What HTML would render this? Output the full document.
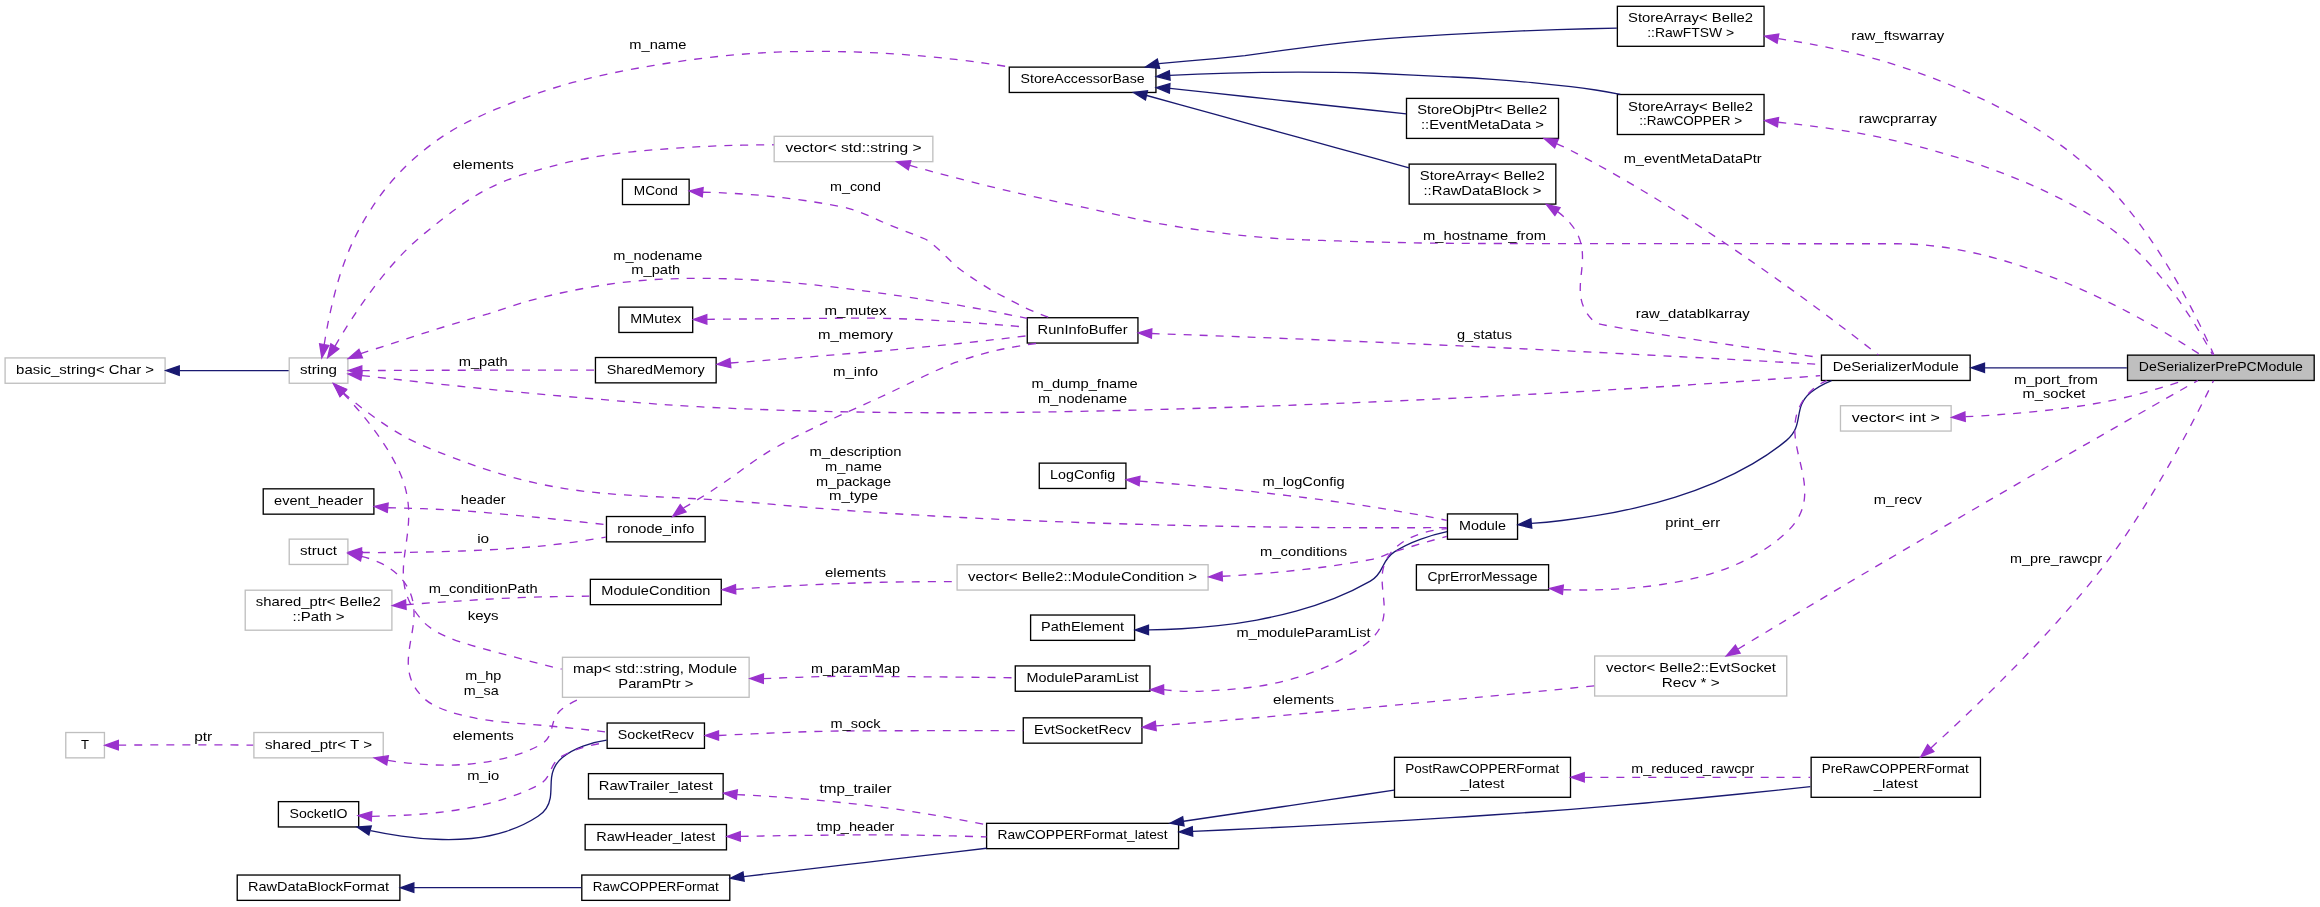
<!DOCTYPE html>
<html><head><meta charset="utf-8"><title>Collaboration graph</title>
<style>
html,body{margin:0;padding:0;background:#fff;}
svg{display:block;will-change:transform;}
text{font-family:"Liberation Sans",sans-serif;font-size:13.0px;fill:#000;}
path,rect,polygon{stroke-width:1.33;}
</style></head><body>
<svg width="2320" height="907" viewBox="0 0 2320 907">
<rect x="0" y="0" width="2320" height="907" fill="#fff" stroke="none"/>
<g>
<rect x="2127.52" y="355.13" width="186.67" height="25.33" fill="#bfbfbf" stroke="#000"/>
<text x="2138.85" y="371.13" textLength="164.00" lengthAdjust="spacingAndGlyphs">DeSerializerPrePCModule</text>
<rect x="1821.45" y="355.13" width="148.70" height="25.33" fill="#fff" stroke="#000"/>
<text x="1832.80" y="371.13" textLength="126.00" lengthAdjust="spacingAndGlyphs">DeSerializerModule</text>
<rect x="1447.45" y="513.93" width="70.10" height="25.33" fill="#fff" stroke="#000"/>
<text x="1459.00" y="529.93" textLength="47.00" lengthAdjust="spacingAndGlyphs">Module</text>
<rect x="1030.60" y="615.03" width="104.00" height="25.33" fill="#fff" stroke="#000"/>
<text x="1041.10" y="631.03" textLength="83.00" lengthAdjust="spacingAndGlyphs">PathElement</text>
<rect x="1039.27" y="463.13" width="86.67" height="25.33" fill="#fff" stroke="#000"/>
<text x="1050.10" y="479.13" textLength="65.00" lengthAdjust="spacingAndGlyphs">LogConfig</text>
<rect x="289.22" y="357.93" width="58.67" height="25.33" fill="#fff" stroke="#bfbfbf"/>
<text x="300.05" y="373.93" textLength="37.00" lengthAdjust="spacingAndGlyphs">string</text>
<rect x="562.47" y="657.30" width="186.67" height="40.00" fill="#fff" stroke="#bfbfbf"/>
<text x="573.14" y="673.30" textLength="164.00" lengthAdjust="spacingAndGlyphs">map&lt; std::string, Module</text>
<text x="618.30" y="687.97" textLength="75.00" lengthAdjust="spacingAndGlyphs">ParamPtr &gt;</text>
<rect x="1009.27" y="67.13" width="146.67" height="25.33" fill="#fff" stroke="#000"/>
<text x="1020.60" y="83.13" textLength="124.00" lengthAdjust="spacingAndGlyphs">StoreAccessorBase</text>
<rect x="1027.27" y="317.73" width="110.67" height="25.33" fill="#fff" stroke="#000"/>
<text x="1037.60" y="333.73" textLength="90.00" lengthAdjust="spacingAndGlyphs">RunInfoBuffer</text>
<rect x="595.45" y="357.53" width="120.70" height="25.33" fill="#fff" stroke="#000"/>
<text x="606.80" y="373.53" textLength="98.00" lengthAdjust="spacingAndGlyphs">SharedMemory</text>
<rect x="774.17" y="136.33" width="158.67" height="25.33" fill="#fff" stroke="#bfbfbf"/>
<text x="785.50" y="152.33" textLength="136.00" lengthAdjust="spacingAndGlyphs">vector&lt; std::string &gt;</text>
<rect x="5.10" y="357.93" width="160.00" height="25.33" fill="#fff" stroke="#bfbfbf"/>
<text x="16.10" y="373.93" textLength="138.00" lengthAdjust="spacingAndGlyphs">basic_string&lt; Char &gt;</text>
<rect x="957.10" y="564.73" width="251.00" height="25.33" fill="#fff" stroke="#bfbfbf"/>
<text x="968.10" y="580.73" textLength="229.00" lengthAdjust="spacingAndGlyphs">vector&lt; Belle2::ModuleCondition &gt;</text>
<rect x="590.35" y="579.33" width="130.90" height="25.33" fill="#fff" stroke="#000"/>
<text x="601.30" y="595.33" textLength="109.00" lengthAdjust="spacingAndGlyphs">ModuleCondition</text>
<rect x="245.22" y="590.20" width="146.67" height="40.00" fill="#fff" stroke="#bfbfbf"/>
<text x="255.89" y="606.20" textLength="125.00" lengthAdjust="spacingAndGlyphs">shared_ptr&lt; Belle2</text>
<text x="292.55" y="620.87" textLength="52.00" lengthAdjust="spacingAndGlyphs">::Path &gt;</text>
<rect x="1015.27" y="665.93" width="134.67" height="25.33" fill="#fff" stroke="#000"/>
<text x="1026.60" y="681.93" textLength="112.00" lengthAdjust="spacingAndGlyphs">ModuleParamList</text>
<rect x="253.89" y="732.53" width="129.33" height="25.33" fill="#fff" stroke="#bfbfbf"/>
<text x="265.05" y="748.53" textLength="107.00" lengthAdjust="spacingAndGlyphs">shared_ptr&lt; T &gt;</text>
<rect x="65.77" y="732.53" width="38.67" height="25.33" fill="#fff" stroke="#bfbfbf"/>
<text x="81.10" y="748.53" textLength="8.00" lengthAdjust="spacingAndGlyphs">T</text>
<rect x="1416.40" y="564.73" width="132.20" height="25.33" fill="#fff" stroke="#000"/>
<text x="1427.50" y="580.73" textLength="110.00" lengthAdjust="spacingAndGlyphs">CprErrorMessage</text>
<rect x="1406.50" y="98.40" width="152.00" height="40.00" fill="#fff" stroke="#000"/>
<text x="1417.16" y="114.40" textLength="130.00" lengthAdjust="spacingAndGlyphs">StoreObjPtr&lt; Belle2</text>
<text x="1421.00" y="129.07" textLength="123.00" lengthAdjust="spacingAndGlyphs">::EventMetaData &gt;</text>
<rect x="1409.16" y="164.10" width="146.67" height="40.00" fill="#fff" stroke="#000"/>
<text x="1419.83" y="180.10" textLength="125.00" lengthAdjust="spacingAndGlyphs">StoreArray&lt; Belle2</text>
<text x="1423.50" y="194.77" textLength="118.00" lengthAdjust="spacingAndGlyphs">::RawDataBlock &gt;</text>
<rect x="1617.37" y="6.30" width="146.67" height="40.00" fill="#fff" stroke="#000"/>
<text x="1628.03" y="22.30" textLength="125.00" lengthAdjust="spacingAndGlyphs">StoreArray&lt; Belle2</text>
<text x="1647.20" y="36.97" textLength="87.00" lengthAdjust="spacingAndGlyphs">::RawFTSW &gt;</text>
<rect x="1617.37" y="94.50" width="146.67" height="40.00" fill="#fff" stroke="#000"/>
<text x="1628.03" y="110.50" textLength="125.00" lengthAdjust="spacingAndGlyphs">StoreArray&lt; Belle2</text>
<text x="1639.20" y="125.17" textLength="103.00" lengthAdjust="spacingAndGlyphs">::RawCOPPER &gt;</text>
<rect x="622.47" y="179.23" width="66.67" height="25.33" fill="#fff" stroke="#000"/>
<text x="633.80" y="195.23" textLength="44.00" lengthAdjust="spacingAndGlyphs">MCond</text>
<rect x="606.47" y="516.53" width="98.67" height="25.33" fill="#fff" stroke="#000"/>
<text x="617.30" y="532.53" textLength="77.00" lengthAdjust="spacingAndGlyphs">ronode_info</text>
<rect x="289.22" y="539.13" width="58.67" height="25.33" fill="#fff" stroke="#bfbfbf"/>
<text x="300.05" y="555.13" textLength="37.00" lengthAdjust="spacingAndGlyphs">struct</text>
<rect x="607.14" y="723.03" width="97.33" height="25.33" fill="#fff" stroke="#000"/>
<text x="617.80" y="739.03" textLength="76.00" lengthAdjust="spacingAndGlyphs">SocketRecv</text>
<rect x="263.22" y="488.83" width="110.67" height="25.33" fill="#fff" stroke="#000"/>
<text x="274.05" y="504.83" textLength="89.00" lengthAdjust="spacingAndGlyphs">event_header</text>
<rect x="618.90" y="307.13" width="73.80" height="25.33" fill="#fff" stroke="#000"/>
<text x="630.30" y="323.13" textLength="51.00" lengthAdjust="spacingAndGlyphs">MMutex</text>
<rect x="1594.65" y="656.00" width="192.10" height="40.00" fill="#fff" stroke="#bfbfbf"/>
<text x="1606.03" y="672.00" textLength="170.00" lengthAdjust="spacingAndGlyphs">vector&lt; Belle2::EvtSocket</text>
<text x="1661.70" y="686.67" textLength="58.00" lengthAdjust="spacingAndGlyphs">Recv * &gt;</text>
<rect x="1023.27" y="717.83" width="118.67" height="25.33" fill="#fff" stroke="#000"/>
<text x="1034.10" y="733.83" textLength="97.00" lengthAdjust="spacingAndGlyphs">EvtSocketRecv</text>
<rect x="278.40" y="801.63" width="80.30" height="25.33" fill="#fff" stroke="#000"/>
<text x="289.55" y="817.63" textLength="58.00" lengthAdjust="spacingAndGlyphs">SocketIO</text>
<rect x="1840.47" y="405.73" width="110.67" height="25.33" fill="#fff" stroke="#bfbfbf"/>
<text x="1851.80" y="421.73" textLength="88.00" lengthAdjust="spacingAndGlyphs">vector&lt; int &gt;</text>
<rect x="1811.13" y="757.30" width="169.33" height="40.00" fill="#fff" stroke="#000"/>
<text x="1821.80" y="773.30" textLength="147.00" lengthAdjust="spacingAndGlyphs">PreRawCOPPERFormat</text>
<text x="1873.80" y="787.97" textLength="44.00" lengthAdjust="spacingAndGlyphs">_latest</text>
<rect x="986.60" y="823.33" width="192.00" height="25.33" fill="#fff" stroke="#000"/>
<text x="997.60" y="839.33" textLength="170.00" lengthAdjust="spacingAndGlyphs">RawCOPPERFormat_latest</text>
<rect x="1394.50" y="757.30" width="176.00" height="40.00" fill="#fff" stroke="#000"/>
<text x="1405.16" y="773.30" textLength="154.00" lengthAdjust="spacingAndGlyphs">PostRawCOPPERFormat</text>
<text x="1460.50" y="787.97" textLength="44.00" lengthAdjust="spacingAndGlyphs">_latest</text>
<rect x="581.80" y="875.03" width="148.00" height="25.33" fill="#fff" stroke="#000"/>
<text x="592.80" y="891.03" textLength="126.00" lengthAdjust="spacingAndGlyphs">RawCOPPERFormat</text>
<rect x="237.22" y="875.03" width="162.67" height="25.33" fill="#fff" stroke="#000"/>
<text x="248.05" y="891.03" textLength="141.00" lengthAdjust="spacingAndGlyphs">RawDataBlockFormat</text>
<rect x="588.47" y="773.63" width="134.67" height="25.33" fill="#fff" stroke="#000"/>
<text x="598.81" y="789.63" textLength="113.98" lengthAdjust="spacingAndGlyphs">RawTrailer_latest</text>
<rect x="585.14" y="824.53" width="141.33" height="25.33" fill="#fff" stroke="#000"/>
<text x="596.30" y="840.53" textLength="119.00" lengthAdjust="spacingAndGlyphs">RawHeader_latest</text>
</g>
<g>
<path d="M1985.03,367.80 C1996.03,367.80 2007.60,367.80 2019.47,367.80 2031.34,367.80 2043.51,367.80 2055.70,367.80 2067.89,367.80 2080.10,367.80 2092.06,367.80 2104.01,367.80 2115.70,367.80 2126.85,367.80" fill="none" stroke="#191970"/>
<polygon points="1984.49,372.47 1971.16,367.80 1984.49,363.13 1984.49,372.47" fill="#191970" stroke="#191970"/>
<path d="M1531.38,523.45 C1540.64,522.78 1550.95,521.82 1562.03,520.49 1573.12,519.21 1584.99,517.56 1597.36,515.46 1609.73,513.39 1622.60,510.87 1635.70,507.81 1648.81,504.77 1662.14,501.20 1675.43,497.01 1688.72,492.82 1701.98,488.02 1714.92,482.52 1727.86,477.01 1740.49,470.81 1752.52,463.81 1764.54,456.81 1775.98,449.03 1786.55,440.37 1795.85,432.67 1797.22,424.54 1798.60,416.42 1799.97,408.29 1801.35,400.17 1810.68,392.50 1816.80,387.51 1823.99,383.59 1831.52,380.51" fill="none" stroke="#191970"/>
<polygon points="1531.74,528.11 1518.03,524.71 1530.87,518.81 1531.74,528.11" fill="#191970" stroke="#191970"/>
<path d="M1148.82,629.87 C1158.99,629.75 1170.03,629.41 1181.68,628.75 1193.33,628.09 1205.58,627.10 1218.19,625.68 1230.80,624.26 1243.76,622.41 1256.82,620.03 1269.89,617.64 1283.06,614.72 1296.07,611.15 1309.09,607.59 1321.95,603.38 1334.42,598.42 1346.88,593.47 1358.94,587.76 1370.34,581.20 1377.64,577.00 1380.14,571.99 1382.56,566.88 1384.99,561.76 1387.34,556.53 1394.37,551.89 1402.22,546.71 1411.16,542.56 1420.25,539.26 1429.34,535.96 1438.57,533.49 1447.01,531.67" fill="none" stroke="#191970"/>
<polygon points="1148.50,634.54 1135.16,629.91 1148.46,625.21 1148.50,634.54" fill="#191970" stroke="#191970"/>
<path d="M1139.80,481.12 C1149.44,481.86 1160.05,482.72 1171.41,483.71 1182.77,484.68 1194.88,485.78 1207.52,486.99 1220.16,488.21 1233.33,489.54 1246.80,490.97 1260.27,492.42 1274.06,493.96 1287.92,495.59 1301.78,497.24 1315.73,498.98 1329.54,500.81 1343.36,502.66 1357.03,504.60 1370.34,506.61 1383.19,508.58 1396.84,510.90 1410.01,513.28 1423.18,515.66 1435.87,518.10 1446.79,520.31" fill="none" stroke="#9a32cd" stroke-dasharray="8,8"/>
<polygon points="1139.08,485.73 1126.26,479.79 1139.98,476.44 1139.08,485.73" fill="#9a32cd" stroke="#9a32cd"/>
<text x="1262.58" y="486.20" textLength="82.00" lengthAdjust="spacingAndGlyphs">m_logConfig</text>
<path d="M362.07,375.55 C370.12,376.47 379.09,377.49 388.78,378.57 398.47,379.66 408.87,380.81 419.79,382.00 430.70,383.19 442.13,384.41 453.86,385.64 465.59,386.88 477.63,388.11 489.76,389.33 501.90,390.55 514.13,391.74 526.26,392.88 538.39,394.02 550.41,395.10 562.12,396.11 577.76,397.44 591.45,398.63 603.83,399.70 616.22,400.76 627.30,401.70 637.73,402.55 648.17,403.39 657.96,404.14 667.76,404.83 677.56,405.51 687.37,406.13 697.84,406.71 708.30,407.29 719.43,407.83 731.86,408.35 744.29,408.89 758.04,409.41 773.75,409.95 788.41,410.45 803.18,410.89 818.04,411.25 832.90,411.61 847.84,411.91 862.80,412.14 877.72,412.37 892.71,412.53 907.75,412.63 922.79,412.74 937.88,412.78 953.00,412.76 968.12,412.75 983.27,412.67 998.43,412.54 1013.60,412.42 1028.77,412.24 1043.94,412.01 1059.11,411.78 1074.28,411.49 1089.43,411.17 1104.61,410.85 1119.75,410.50 1134.86,410.11 1149.97,409.74 1165.03,409.33 1180.02,408.89 1195.02,408.46 1209.96,408.00 1224.81,407.52 1239.66,407.04 1254.44,406.54 1269.11,406.01 1283.78,405.49 1298.35,404.94 1312.80,404.38 1327.25,403.82 1341.58,403.24 1355.78,402.65 1369.97,402.05 1384.03,401.44 1397.93,400.82 1411.83,400.20 1425.57,399.56 1439.13,398.92 1452.70,398.27 1466.09,397.62 1479.29,396.95 1492.51,396.29 1505.55,395.62 1518.37,394.94 1531.20,394.26 1543.81,393.58 1556.18,392.90 1568.56,392.21 1580.70,391.52 1592.60,390.83 1604.49,390.14 1616.13,389.45 1627.50,388.77 1638.87,388.07 1649.97,387.39 1660.78,386.72 1671.59,386.03 1682.11,385.36 1692.32,384.69 1702.55,384.02 1712.46,383.36 1722.05,382.72 1731.64,382.07 1740.90,381.43 1749.82,380.82 1758.73,380.19 1767.30,379.58 1775.50,378.99 1783.70,378.39 1791.54,377.82 1798.99,377.28 1806.45,376.71 1813.52,376.18 1820.18,375.68" fill="none" stroke="#9a32cd" stroke-dasharray="8,8"/>
<polygon points="360.94,380.11 348.23,373.95 362.02,370.84 360.94,380.11" fill="#9a32cd" stroke="#9a32cd"/>
<text x="1031.60" y="388.47" textLength="106.00" lengthAdjust="spacingAndGlyphs">m_dump_fname</text>
<text x="1038.10" y="403.13" textLength="89.00" lengthAdjust="spacingAndGlyphs">m_nodename</text>
<path d="M343.41,392.72 C350.06,398.49 357.85,404.94 366.42,411.45 374.98,417.95 384.33,424.50 394.10,430.50 403.86,436.50 414.04,441.94 424.28,446.21 438.78,452.26 452.31,457.53 465.08,462.13 477.84,466.74 489.83,470.68 501.26,474.07 512.69,477.45 523.56,480.28 534.08,482.66 544.59,485.05 554.75,486.98 564.76,488.57 574.77,490.17 584.63,491.42 594.55,492.45 604.47,493.48 614.45,494.28 624.69,494.95 634.94,495.63 645.44,496.19 656.43,496.74 667.42,497.29 678.89,497.83 691.04,498.47 703.19,499.11 716.02,499.85 729.74,500.80 743.45,501.76 758.05,502.92 773.75,504.40 788.98,505.84 804.39,507.18 819.94,508.42 835.50,509.67 851.19,510.81 866.88,511.88 882.55,512.95 898.31,513.95 914.09,514.88 929.88,515.81 945.69,516.68 961.48,517.48 977.27,518.29 993.04,519.04 1008.72,519.72 1024.40,520.42 1040.01,521.05 1055.48,521.63 1070.95,522.21 1086.30,522.74 1101.49,523.22 1116.67,523.71 1131.68,524.14 1146.43,524.54 1161.19,524.93 1175.71,525.28 1189.93,525.59 1204.15,525.89 1218.08,526.16 1231.65,526.40 1245.23,526.63 1258.46,526.83 1271.28,527.00 1284.10,527.16 1296.52,527.30 1308.48,527.41 1320.44,527.52 1331.95,527.60 1342.94,527.66 1353.93,527.71 1364.41,527.75 1374.32,527.78 1384.24,527.78 1393.59,527.78 1402.32,527.78 1411.05,527.75 1419.15,527.73 1426.59,527.70 1434.03,527.65 1440.79,527.61 1446.82,527.57" fill="none" stroke="#9a32cd" stroke-dasharray="8,8"/>
<polygon points="340.22,396.15 333.46,383.75 346.49,389.23 340.22,396.15" fill="#9a32cd" stroke="#9a32cd"/>
<text x="809.50" y="456.40" textLength="92.00" lengthAdjust="spacingAndGlyphs">m_description</text>
<text x="825.00" y="471.07" textLength="57.00" lengthAdjust="spacingAndGlyphs">m_name</text>
<text x="816.00" y="485.73" textLength="75.00" lengthAdjust="spacingAndGlyphs">m_package</text>
<text x="829.00" y="500.40" textLength="49.00" lengthAdjust="spacingAndGlyphs">m_type</text>
<path d="M343.35,393.44 C349.52,399.93 356.40,407.54 363.32,415.96 370.25,424.39 377.22,433.61 383.58,443.30 389.95,452.99 395.70,463.15 400.19,473.45 405.54,485.71 407.86,497.10 408.51,507.85 409.17,518.60 408.17,528.71 406.87,538.45 405.58,548.18 403.99,557.54 403.48,566.76 402.97,575.99 403.53,585.08 406.54,594.30 409.55,603.54 415.01,612.90 424.28,622.64 429.05,627.69 436.56,632.25 446.01,636.36 455.45,640.52 466.84,644.25 479.36,647.57 491.87,651.14 505.52,654.77 519.50,658.38 533.47,662.27 547.77,665.89 561.59,669.14" fill="none" stroke="#9a32cd" stroke-dasharray="8,8"/>
<polygon points="339.85,396.53 333.86,383.73 346.51,390.01 339.85,396.53" fill="#9a32cd" stroke="#9a32cd"/>
<text x="467.66" y="619.50" textLength="31.00" lengthAdjust="spacingAndGlyphs">keys</text>
<path d="M324.23,344.44 C325.76,334.61 327.77,323.57 330.36,311.81 332.94,299.99 336.09,287.63 339.92,275.23 343.74,263.27 348.24,251.48 353.50,240.22 358.76,229.35 364.80,218.58 371.70,208.14 378.59,197.36 386.36,186.98 395.09,177.46 403.82,167.74 413.52,158.60 424.28,150.02 435.41,140.93 446.94,133.16 458.80,126.57 470.66,120.24 482.85,114.60 495.31,109.47 507.77,104.23 520.50,99.31 533.44,94.79 546.38,90.25 559.53,86.15 572.83,82.48 586.13,78.83 599.57,75.67 613.11,72.91 626.64,70.13 640.26,67.67 653.91,65.46 667.58,63.12 681.28,61.06 694.94,59.27 708.61,57.46 722.24,55.96 735.77,54.74 749.31,53.56 762.75,52.70 776.04,52.14 789.33,51.64 802.46,51.40 815.37,51.38 828.29,51.36 840.99,51.55 853.41,51.94 865.75,52.32 877.82,52.89 889.56,53.61 901.29,54.33 912.69,55.21 923.69,56.19 934.69,57.18 945.30,58.28 955.45,59.45 965.60,60.63 975.29,61.88 984.47,63.17 993.64,64.45 1002.30,65.77 1010.38,67.09" fill="none" stroke="#9a32cd" stroke-dasharray="8,8"/>
<polygon points="328.79,345.40 321.82,357.68 319.62,343.72 328.79,345.40" fill="#9a32cd" stroke="#9a32cd"/>
<text x="629.30" y="48.50" textLength="57.00" lengthAdjust="spacingAndGlyphs">m_name</text>
<path d="M360.75,353.56 C368.65,351.09 377.49,348.24 387.07,345.14 396.65,342.03 406.97,338.66 417.84,335.18 428.70,331.64 440.12,328.01 451.89,324.42 463.65,320.80 475.77,317.25 488.06,313.86 500.34,309.87 512.78,305.72 525.19,301.95 537.60,298.48 549.97,295.38 562.12,292.74 576.15,289.72 590.41,287.08 604.83,284.84 619.25,282.71 633.82,281.06 648.46,279.90 663.12,278.97 677.86,278.46 692.59,278.30 707.32,278.24 722.04,278.52 736.67,279.09 751.30,279.72 765.83,280.63 780.20,281.76 794.57,282.92 808.76,284.30 822.70,285.83 836.63,287.36 850.32,289.04 863.60,290.82 876.86,292.56 889.79,294.40 902.30,296.29 914.81,298.11 926.91,299.97 938.51,301.86 950.11,303.72 961.21,305.63 971.73,307.56 982.25,309.44 992.19,311.33 1001.48,313.20 1010.76,314.99 1019.38,316.76 1027.26,318.46" fill="none" stroke="#9a32cd" stroke-dasharray="8,8"/>
<polygon points="362.45,357.91 348.33,358.56 358.95,349.25 362.45,357.91" fill="#9a32cd" stroke="#9a32cd"/>
<text x="613.30" y="259.57" textLength="89.00" lengthAdjust="spacingAndGlyphs">m_nodename</text>
<text x="631.30" y="274.23" textLength="49.00" lengthAdjust="spacingAndGlyphs">m_path</text>
<path d="M361.93,370.60 C371.72,370.54 382.86,370.49 394.93,370.44 407.00,370.38 420.00,370.33 433.53,370.28 447.05,370.24 461.10,370.22 475.27,370.20 489.43,370.20 503.71,370.20 517.69,370.20 531.68,370.20 545.37,370.20 558.35,370.20 571.34,370.20 583.62,370.20 594.79,370.20" fill="none" stroke="#9a32cd" stroke-dasharray="8,8"/>
<polygon points="361.78,375.27 348.45,370.60 361.78,365.93 361.78,375.27" fill="#9a32cd" stroke="#9a32cd"/>
<text x="458.66" y="366.20" textLength="49.00" lengthAdjust="spacingAndGlyphs">m_path</text>
<path d="M335.03,346.07 C339.62,338.13 345.15,329.09 351.43,319.48 357.72,309.78 364.78,299.55 372.44,289.32 380.09,279.16 388.35,269.05 397.05,259.51 405.74,250.14 414.87,241.36 424.28,233.63 437.62,222.71 448.73,213.97 458.93,206.74 469.13,199.46 478.43,193.65 488.15,188.63 497.87,183.65 508.01,179.49 519.89,175.48 531.78,171.58 545.41,167.83 562.12,163.59 573.72,160.75 585.68,158.38 597.83,156.40 609.99,154.40 622.33,152.77 634.70,151.52 647.07,150.27 659.47,149.30 671.74,148.52 684.01,147.58 696.13,146.84 707.94,146.31 719.75,145.77 731.24,145.42 742.26,145.21 753.27,144.96 763.79,144.83 773.67,144.76" fill="none" stroke="#9a32cd" stroke-dasharray="8,8"/>
<polygon points="338.76,348.88 327.69,357.65 330.86,343.89 338.76,348.88" fill="#9a32cd" stroke="#9a32cd"/>
<text x="452.66" y="168.50" textLength="61.00" lengthAdjust="spacingAndGlyphs">elements</text>
<path d="M179.52,370.60 C192.56,370.60 205.99,370.60 219.12,370.60 232.25,370.60 245.08,370.60 256.90,370.60 268.72,370.60 279.53,370.60 288.63,370.60" fill="none" stroke="#191970"/>
<polygon points="179.25,375.27 165.92,370.60 179.25,365.93 179.25,375.27" fill="#191970" stroke="#191970"/>
<path d="M1222.68,576.28 C1234.48,575.60 1246.63,574.77 1258.97,573.77 1271.30,572.78 1283.82,571.63 1296.35,570.29 1308.88,568.98 1321.42,567.46 1333.81,565.69 1346.20,563.93 1358.43,561.92 1370.34,559.63 1381.40,557.51 1383.62,555.02 1394.37,551.68 1402.99,549.02 1412.11,546.29 1421.08,543.67 1430.05,541.05 1438.86,538.54 1446.86,536.29" fill="none" stroke="#9a32cd" stroke-dasharray="8,8"/>
<polygon points="1222.42,580.96 1208.90,576.89 1222.01,571.64 1222.42,580.96" fill="#9a32cd" stroke="#9a32cd"/>
<text x="1260.08" y="555.60" textLength="87.00" lengthAdjust="spacingAndGlyphs">m_conditions</text>
<path d="M735.85,589.29 C746.19,588.52 757.24,587.78 768.80,587.06 780.37,586.37 792.46,585.70 804.88,585.08 817.29,584.50 830.04,583.95 842.91,583.45 855.77,582.99 868.70,582.59 881.57,582.27 894.44,582.02 907.26,581.84 919.82,581.73 932.38,581.67 944.70,581.66 956.57,581.72" fill="none" stroke="#9a32cd" stroke-dasharray="8,8"/>
<polygon points="735.78,593.96 722.30,589.76 735.46,584.63 735.78,593.96" fill="#9a32cd" stroke="#9a32cd"/>
<text x="825.00" y="576.50" textLength="61.00" lengthAdjust="spacingAndGlyphs">elements</text>
<path d="M405.90,604.72 C417.34,603.84 429.45,602.97 441.93,602.11 454.40,601.27 467.23,600.44 480.12,599.62 493.01,598.85 505.96,598.20 518.66,597.67 531.35,597.22 543.80,596.87 555.69,596.62 567.57,596.38 578.90,596.22 589.37,596.15" fill="none" stroke="#9a32cd" stroke-dasharray="8,8"/>
<polygon points="406.13,609.37 392.53,605.57 405.53,600.07 406.13,609.37" fill="#9a32cd" stroke="#9a32cd"/>
<text x="428.66" y="592.50" textLength="109.00" lengthAdjust="spacingAndGlyphs">m_conditionPath</text>
<path d="M1163.74,689.59 C1176.06,691.25 1189.17,691.78 1202.62,691.13 1216.07,690.43 1229.85,689.49 1243.49,688.23 1257.14,686.81 1270.64,684.45 1283.53,681.23 1296.42,677.87 1308.70,674.09 1319.90,669.59 1331.10,665.04 1341.22,660.05 1349.78,654.31 1358.35,649.51 1365.35,644.87 1370.34,639.92 1378.31,632.83 1381.95,625.51 1383.39,617.96 1384.84,610.41 1384.08,602.65 1383.25,594.83 1382.42,587.03 1381.52,579.17 1382.66,571.41 1383.81,563.69 1387.00,556.09 1394.37,548.76 1401.21,542.07 1409.88,537.38 1419.08,534.16 1428.29,531.01 1438.02,529.35 1446.98,528.67" fill="none" stroke="#9a32cd" stroke-dasharray="8,8"/>
<polygon points="1163.74,694.26 1150.33,689.83 1163.57,684.93 1163.74,694.26" fill="#9a32cd" stroke="#9a32cd"/>
<text x="1236.58" y="636.60" textLength="134.00" lengthAdjust="spacingAndGlyphs">m_moduleParamList</text>
<path d="M763.46,678.63 C774.76,678.17 786.60,677.71 798.79,677.29 810.98,676.88 823.53,676.56 836.24,676.35 848.95,676.28 861.77,676.34 874.54,676.42 887.31,676.51 900.06,676.60 912.60,676.70 925.13,676.80 937.46,676.91 949.40,677.03 961.33,677.15 972.87,677.27 983.82,677.39 994.78,677.52 1005.15,677.64 1014.75,677.76" fill="none" stroke="#9a32cd" stroke-dasharray="8,8"/>
<polygon points="763.33,683.30 750.05,678.46 763.45,673.97 763.33,683.30" fill="#9a32cd" stroke="#9a32cd"/>
<text x="811.00" y="672.50" textLength="89.00" lengthAdjust="spacingAndGlyphs">m_paramMap</text>
<path d="M388.07,760.39 C397.06,761.79 406.69,763.02 416.72,763.87 426.73,764.73 437.14,765.22 447.68,765.13 458.23,765.06 468.91,764.40 479.48,762.97 490.06,761.56 500.52,759.49 510.63,756.56 520.73,753.74 530.47,750.05 539.60,745.28 548.47,740.59 550.31,734.38 551.89,727.84 553.47,721.36 554.80,714.54 562.65,708.59 568.66,704.17 575.51,700.52 582.69,697.53" fill="none" stroke="#9a32cd" stroke-dasharray="8,8"/>
<polygon points="386.68,764.88 374.39,757.92 388.34,755.69 386.68,764.88" fill="#9a32cd" stroke="#9a32cd"/>
<text x="452.66" y="739.50" textLength="61.00" lengthAdjust="spacingAndGlyphs">elements</text>
<path d="M118.38,745.20 C127.04,745.09 137.06,745.00 147.89,744.93 158.73,744.87 170.38,744.83 182.32,744.81 194.26,744.80 206.49,744.81 218.48,744.86 230.46,744.94 242.20,745.06 253.16,745.20" fill="none" stroke="#9a32cd" stroke-dasharray="8,8"/>
<polygon points="118.33,749.87 105.00,745.20 118.33,740.53 118.33,749.87" fill="#9a32cd" stroke="#9a32cd"/>
<text x="194.16" y="740.80" textLength="18.00" lengthAdjust="spacingAndGlyphs">ptr</text>
<path d="M1563.30,589.76 C1573.09,590.03 1583.45,590.12 1594.19,589.91 1604.94,589.71 1616.06,589.22 1627.37,588.34 1638.68,587.49 1650.17,586.26 1661.66,584.51 1673.14,582.84 1684.61,580.67 1695.89,577.88 1707.17,575.13 1718.24,571.71 1728.91,567.51 1739.58,563.35 1749.85,558.40 1759.52,552.54 1769.20,546.72 1778.27,539.99 1786.55,532.23 1794.65,524.63 1799.48,516.93 1802.11,509.17 1804.73,501.37 1805.16,493.50 1804.46,485.58 1803.76,477.70 1801.93,469.77 1800.05,461.81 1798.17,453.89 1796.23,445.95 1795.32,438.01 1794.41,430.09 1794.51,422.18 1796.71,414.30 1798.92,406.55 1803.21,398.84 1810.68,391.19 1815.17,386.68 1820.68,383.23 1826.70,380.60" fill="none" stroke="#9a32cd" stroke-dasharray="8,8"/>
<polygon points="1562.43,594.36 1549.62,588.43 1563.34,585.08 1562.43,594.36" fill="#9a32cd" stroke="#9a32cd"/>
<text x="1665.20" y="526.60" textLength="55.00" lengthAdjust="spacingAndGlyphs">print_err</text>
<path d="M1556.47,143.60 C1561.40,145.78 1566.25,148.07 1570.87,150.45 1583.46,156.92 1596.16,163.79 1608.85,170.95 1621.54,178.10 1634.24,185.54 1646.83,193.16 1659.42,200.77 1671.91,208.56 1684.19,216.42 1696.49,224.27 1708.59,232.20 1720.38,240.09 1732.18,247.98 1743.68,255.83 1754.77,263.55 1765.86,271.26 1776.55,278.83 1786.74,286.14 1796.93,293.46 1806.62,300.53 1815.70,307.23 1824.78,313.94 1833.26,320.29 1841.04,326.17 1848.82,332.05 1855.90,337.47 1862.17,342.31 1868.44,347.15 1873.91,351.42 1878.48,355.01" fill="none" stroke="#9a32cd" stroke-dasharray="8,8"/>
<polygon points="1554.62,147.88 1544.14,138.41 1558.24,139.28 1554.62,147.88" fill="#9a32cd" stroke="#9a32cd"/>
<text x="1623.70" y="162.70" textLength="138.00" lengthAdjust="spacingAndGlyphs">m_eventMetaDataPtr</text>
<path d="M1170.02,88.40 C1181.76,89.70 1194.27,91.04 1207.30,92.42 1220.33,93.84 1233.86,95.30 1247.62,96.77 1261.39,98.26 1275.38,99.76 1289.33,101.27 1303.28,102.76 1317.19,104.26 1330.77,105.73 1344.36,107.18 1357.62,108.60 1370.29,109.99 1382.96,111.33 1395.03,112.62 1406.23,113.87" fill="none" stroke="#191970"/>
<polygon points="1169.37,93.04 1156.35,87.57 1169.93,83.72 1169.37,93.04" fill="#191970" stroke="#191970"/>
<path d="M1146.78,95.51 C1157.33,98.45 1168.67,101.58 1180.60,104.84 1192.55,108.16 1205.08,111.62 1217.96,115.15 1230.86,118.72 1244.11,122.37 1257.47,126.05 1270.85,129.75 1284.35,133.47 1297.74,137.17 1311.13,140.85 1324.41,144.51 1337.36,148.10 1350.29,151.65 1362.89,155.12 1374.93,158.47 1386.94,161.75 1398.38,164.91 1409.05,167.89" fill="none" stroke="#191970"/>
<polygon points="1145.43,99.99 1133.44,92.51 1147.47,90.88 1145.43,99.99" fill="#191970" stroke="#191970"/>
<path d="M1158.70,63.64 C1167.40,62.88 1176.71,62.03 1186.31,61.18 1195.89,60.32 1205.77,59.42 1215.65,58.56 1225.52,57.52 1235.39,56.48 1244.95,55.54 1257.97,53.86 1271.23,51.95 1284.65,50.12 1298.06,48.27 1311.62,46.53 1325.23,44.90 1338.85,43.27 1352.52,41.78 1366.15,40.43 1379.79,39.17 1393.39,38.09 1406.86,37.15 1420.34,36.24 1433.70,35.43 1446.83,34.69 1459.97,33.90 1472.90,33.20 1485.50,32.58 1498.17,31.94 1510.52,31.39 1522.46,30.91 1534.43,30.42 1545.98,30.00 1557.04,29.65 1568.13,29.28 1578.71,28.98 1588.71,28.73 1598.73,28.47 1608.17,28.27 1616.91,28.11" fill="none" stroke="#191970"/>
<polygon points="1159.59,68.23 1145.52,66.99 1157.30,59.17 1159.59,68.23" fill="#191970" stroke="#191970"/>
<path d="M1169.73,75.41 C1178.59,75.00 1188.00,74.59 1197.90,74.19 1207.79,73.83 1218.16,73.49 1228.95,73.18 1239.73,72.90 1250.93,72.65 1262.47,72.46 1274.01,72.30 1285.89,72.19 1298.05,72.16 1310.21,72.14 1322.64,72.20 1335.28,72.36 1347.93,72.53 1360.78,72.82 1373.77,73.28 1386.76,73.76 1399.89,74.36 1413.09,75.05 1426.29,75.68 1439.57,76.34 1452.84,77.03 1466.12,77.68 1479.40,78.46 1492.65,79.41 1505.91,80.33 1519.10,81.41 1532.16,82.65 1545.21,83.85 1558.14,85.21 1570.87,86.69 1578.97,87.54 1587.31,88.69 1595.64,90.03 1603.97,91.32 1612.29,92.83 1620.34,94.43" fill="none" stroke="#191970"/>
<polygon points="1170.12,80.05 1156.43,76.58 1169.29,70.75 1170.12,80.05" fill="#191970" stroke="#191970"/>
<path d="M1557.58,211.62 C1562.50,215.28 1567.01,219.40 1570.87,224.05 1578.07,232.73 1581.08,241.33 1582.08,249.80 1583.08,258.29 1582.06,266.65 1581.18,274.88 1580.31,283.12 1579.58,291.21 1581.15,299.15 1582.73,307.09 1586.61,314.87 1594.97,322.48 1595.66,323.10 1599.97,324.16 1607.06,325.54 1614.15,326.91 1624.03,328.61 1635.89,330.53 1647.74,332.45 1661.56,334.59 1676.54,336.85 1691.52,339.12 1707.67,341.50 1724.16,343.90 1740.65,346.30 1757.48,348.71 1773.82,351.03 1790.16,353.36 1806.02,355.59 1820.58,357.64" fill="none" stroke="#9a32cd" stroke-dasharray="8,8"/>
<polygon points="1554.94,215.47 1546.32,204.27 1560.04,207.66 1554.94,215.47" fill="#9a32cd" stroke="#9a32cd"/>
<text x="1635.70" y="318.40" textLength="114.00" lengthAdjust="spacingAndGlyphs">raw_datablkarray</text>
<path d="M1151.75,333.53 C1160.60,333.83 1170.18,334.17 1180.40,334.54 1190.63,334.91 1201.49,335.30 1212.92,335.73 1224.34,336.15 1236.32,336.60 1248.78,337.07 1261.24,337.55 1274.17,338.05 1287.49,338.57 1300.81,339.10 1314.52,339.65 1328.54,340.22 1342.55,340.80 1356.88,341.39 1371.42,342.01 1385.96,342.63 1400.72,343.26 1415.62,343.91 1430.52,344.57 1445.56,345.24 1460.65,345.92 1475.74,346.61 1490.90,347.31 1506.05,348.02 1521.20,348.73 1536.32,349.45 1551.32,350.17 1566.32,350.90 1581.20,351.63 1595.88,352.36 1610.56,353.09 1625.04,353.83 1639.23,354.55 1653.42,355.28 1667.32,356.01 1680.86,356.72 1694.40,357.43 1707.57,358.14 1720.29,358.82 1733.01,359.51 1745.28,360.18 1757.00,360.83 1768.72,361.47 1779.90,362.10 1790.46,362.70 1801.01,363.29 1810.94,363.85 1820.15,364.39" fill="none" stroke="#9a32cd" stroke-dasharray="8,8"/>
<polygon points="1151.40,338.19 1138.30,332.91 1151.83,328.87 1151.40,338.19" fill="#9a32cd" stroke="#9a32cd"/>
<text x="1457.00" y="339.20" textLength="55.00" lengthAdjust="spacingAndGlyphs">g_status</text>
<path d="M702.94,192.26 C711.90,192.39 721.98,192.75 732.92,193.40 743.81,193.98 755.55,194.85 767.88,196.05 780.17,197.27 793.05,198.82 806.24,200.75 819.42,202.72 832.91,205.03 846.45,207.81 859.91,211.64 873.41,217.50 886.69,223.95 899.97,229.23 913.04,233.99 925.62,239.26 937.31,246.28 949.23,260.86 960.94,270.07 972.66,278.41 984.17,286.01 995.04,292.22 1005.94,297.88 1016.21,303.26 1025.39,307.80 1034.65,312.08 1042.82,315.48 1049.49,317.52" fill="none" stroke="#9a32cd" stroke-dasharray="8,8"/>
<polygon points="702.26,196.87 689.43,190.97 703.14,187.59 702.26,196.87" fill="#9a32cd" stroke="#9a32cd"/>
<text x="830.00" y="191.00" textLength="51.00" lengthAdjust="spacingAndGlyphs">m_cond</text>
<path d="M683.48,507.96 C690.78,503.81 699.38,498.58 708.77,492.76 718.11,486.65 728.25,479.60 738.68,472.22 749.11,464.52 759.82,457.02 770.33,450.51 783.35,443.00 794.54,437.23 804.67,432.42 814.88,427.41 824.03,422.98 832.87,418.70 841.73,414.41 850.28,410.62 859.23,406.72 868.15,402.68 877.53,398.45 888.10,393.54 898.59,388.47 910.28,382.85 923.92,376.23 933.89,371.52 944.26,366.91 954.65,362.74 965.04,359.04 975.44,355.77 985.49,353.03 995.57,350.51 1005.29,348.41 1014.28,346.88 1023.31,345.16 1031.62,343.89 1038.81,343.23" fill="none" stroke="#9a32cd" stroke-dasharray="8,8"/>
<polygon points="686.02,511.91 672.67,516.53 680.22,504.59 686.02,511.91" fill="#9a32cd" stroke="#9a32cd"/>
<text x="833.00" y="375.50" textLength="45.00" lengthAdjust="spacingAndGlyphs">m_info</text>
<path d="M362.01,552.51 C370.81,552.55 380.68,552.56 391.34,552.50 402.01,552.42 413.45,552.28 425.39,552.04 437.32,551.79 449.74,551.45 462.36,550.98 474.98,550.51 487.79,549.91 500.50,549.15 513.21,548.38 525.82,547.45 538.03,546.33 549.22,545.29 560.98,543.88 572.54,542.29 584.10,540.70 595.47,538.93 605.88,537.19" fill="none" stroke="#9a32cd" stroke-dasharray="8,8"/>
<polygon points="361.50,557.16 348.22,552.35 361.61,547.83 361.50,557.16" fill="#9a32cd" stroke="#9a32cd"/>
<text x="477.16" y="543.00" textLength="12.00" lengthAdjust="spacingAndGlyphs">io</text>
<path d="M361.50,556.29 C368.55,558.08 375.75,560.55 382.42,563.95 389.09,567.35 395.24,571.69 400.19,577.21 407.54,585.42 411.31,593.69 412.96,601.98 414.60,610.27 414.12,618.57 412.97,626.84 411.83,635.10 410.02,643.32 409.02,651.45 408.01,659.57 407.80,667.60 409.86,675.49 411.92,683.37 416.24,691.10 424.28,698.63 429.39,703.42 437.37,707.47 447.33,710.90 457.30,714.33 469.26,717.13 482.33,719.42 495.41,721.50 509.60,722.84 524.04,723.80 538.48,724.99 553.16,726.32 567.21,727.73 581.26,729.17 594.69,730.60 606.61,732.05" fill="none" stroke="#9a32cd" stroke-dasharray="8,8"/>
<polygon points="360.51,560.85 348.35,553.67 362.34,551.71 360.51,560.85" fill="#9a32cd" stroke="#9a32cd"/>
<text x="465.16" y="679.97" textLength="36.00" lengthAdjust="spacingAndGlyphs">m_hp</text>
<text x="463.66" y="694.63" textLength="35.00" lengthAdjust="spacingAndGlyphs">m_sa</text>
<path d="M388.12,507.75 C398.92,507.96 410.57,508.28 422.77,508.70 434.97,509.13 447.70,509.74 460.66,510.51 473.61,511.46 486.78,512.63 499.85,513.83 512.91,515.05 525.88,516.27 538.41,517.48 550.95,518.72 563.06,519.96 574.43,521.17 585.80,522.40 596.41,523.61 605.97,524.76" fill="none" stroke="#9a32cd" stroke-dasharray="8,8"/>
<polygon points="387.28,512.37 374.42,506.50 388.13,503.07 387.28,512.37" fill="#9a32cd" stroke="#9a32cd"/>
<text x="460.66" y="504.00" textLength="45.00" lengthAdjust="spacingAndGlyphs">header</text>
<path d="M730.69,363.01 C739.97,362.32 749.88,361.55 760.27,360.73 770.66,359.94 781.53,359.08 792.73,358.18 803.93,357.31 815.46,356.38 827.16,355.42 838.87,354.47 850.75,353.49 862.61,352.47 874.44,351.47 886.31,350.44 898.05,349.39 909.79,348.34 921.41,347.27 932.75,346.19 943.19,345.21 954.03,344.09 964.88,342.91 975.72,341.74 986.58,340.52 997.07,339.33 1007.56,338.11 1017.68,336.91 1027.05,335.81" fill="none" stroke="#9a32cd" stroke-dasharray="8,8"/>
<polygon points="730.83,367.69 717.08,364.40 729.88,358.40 730.83,367.69" fill="#9a32cd" stroke="#9a32cd"/>
<text x="818.00" y="339.20" textLength="75.00" lengthAdjust="spacingAndGlyphs">m_memory</text>
<path d="M707.03,319.33 C717.07,319.24 728.32,319.14 740.48,319.02 752.63,318.92 765.70,318.80 779.38,318.68 793.05,318.57 807.35,318.45 821.96,318.33 836.57,318.22 851.50,318.10 866.37,318.07 881.23,318.24 896.11,318.60 910.72,319.13 925.33,319.78 939.67,320.56 953.45,321.45 967.22,322.35 980.44,323.32 992.79,324.36 1005.14,325.28 1016.64,326.24 1026.98,327.22" fill="none" stroke="#9a32cd" stroke-dasharray="8,8"/>
<polygon points="706.85,324.00 693.48,319.45 706.77,314.67 706.85,324.00" fill="#9a32cd" stroke="#9a32cd"/>
<text x="824.50" y="314.60" textLength="62.00" lengthAdjust="spacingAndGlyphs">m_mutex</text>
<path d="M1778.44,38.66 C1787.60,40.04 1797.29,41.63 1807.39,43.48 1817.49,45.29 1828.00,47.36 1838.82,49.74 1849.64,52.13 1860.77,54.85 1872.10,57.93 1883.42,61.09 1894.95,64.64 1906.57,68.59 1918.19,72.53 1929.91,76.80 1941.61,81.43 1953.31,86.05 1965.00,91.04 1976.57,96.40 1988.14,101.76 1999.60,107.51 2010.82,113.66 2022.05,119.81 2033.05,126.38 2043.72,133.38 2054.39,140.38 2064.72,147.82 2074.62,155.72 2084.52,163.62 2093.98,171.99 2102.90,180.84 2112.07,189.97 2120.87,199.95 2129.22,210.41 2137.58,220.87 2145.49,231.82 2152.90,242.85 2160.32,253.90 2167.22,265.03 2173.57,275.88 2179.92,286.72 2185.70,297.26 2190.86,307.13 2196.02,316.98 2200.55,326.14 2204.40,334.24 2208.25,342.30 2211.42,349.28 2213.84,354.81" fill="none" stroke="#9a32cd" stroke-dasharray="8,8"/>
<polygon points="1777.07,43.15 1764.79,36.15 1778.75,33.98 1777.07,43.15" fill="#9a32cd" stroke="#9a32cd"/>
<text x="1851.30" y="40.30" textLength="93.00" lengthAdjust="spacingAndGlyphs">raw_ftswarray</text>
<path d="M1778.36,122.25 C1788.11,123.21 1798.47,124.36 1809.32,125.74 1820.17,127.09 1831.50,128.68 1843.21,130.56 1854.92,132.45 1867.00,134.65 1879.33,137.20 1891.65,139.81 1904.24,142.79 1916.95,146.08 1929.66,149.37 1942.51,152.98 1955.37,156.93 1968.24,160.89 1981.12,165.19 1993.89,169.88 2006.67,174.56 2019.34,179.62 2031.79,185.10 2044.24,190.57 2056.47,196.46 2068.36,202.79 2080.25,209.12 2091.80,215.90 2102.90,223.14 2113.61,230.14 2123.80,238.45 2133.39,247.50 2142.98,256.55 2151.95,266.35 2160.22,276.31 2168.48,286.27 2176.04,296.40 2182.78,306.13 2189.52,315.84 2195.45,325.15 2200.47,333.49 2205.49,341.79 2209.60,349.11 2212.70,354.88" fill="none" stroke="#9a32cd" stroke-dasharray="8,8"/>
<polygon points="1777.43,126.83 1764.76,120.57 1778.56,117.57 1777.43,126.83" fill="#9a32cd" stroke="#9a32cd"/>
<text x="1858.80" y="122.70" textLength="78.00" lengthAdjust="spacingAndGlyphs">rawcprarray</text>
<path d="M1738.14,648.96 C1745.95,644.24 1754.59,639.03 1763.93,633.42 1773.26,627.79 1783.30,621.76 1793.90,615.40 1804.51,609.03 1815.68,602.35 1827.30,595.42 1838.91,588.49 1850.97,581.33 1863.33,574.01 1875.70,566.70 1888.37,559.24 1901.23,551.70 1914.08,544.16 1927.12,536.53 1940.21,528.88 1953.29,521.23 1966.43,513.56 1979.49,505.95 1992.55,498.35 2005.54,490.80 2018.31,483.38 2031.09,475.97 2043.65,468.70 2055.88,461.63 2068.11,454.57 2080.00,447.72 2091.43,441.15 2102.86,434.58 2113.82,428.30 2124.18,422.37 2134.54,416.44 2144.31,410.87 2153.35,405.73 2162.39,400.58 2170.71,395.85 2178.17,391.64 2185.63,387.40 2192.23,383.66 2197.85,380.51" fill="none" stroke="#9a32cd" stroke-dasharray="8,8"/>
<polygon points="1740.15,653.19 1726.30,655.95 1735.41,645.15 1740.15,653.19" fill="#9a32cd" stroke="#9a32cd"/>
<text x="1873.80" y="503.70" textLength="48.00" lengthAdjust="spacingAndGlyphs">m_recv</text>
<path d="M1155.95,725.93 C1165.05,725.22 1174.84,724.44 1185.21,723.59 1195.58,722.77 1206.52,721.89 1217.93,720.95 1229.35,720.02 1241.23,719.02 1253.48,717.98 1265.72,716.94 1278.33,715.84 1291.20,714.69 1304.06,713.52 1317.18,712.32 1330.45,711.10 1343.72,709.89 1357.14,708.65 1370.60,707.41 1384.06,706.17 1397.56,704.92 1411.00,703.67 1424.43,702.41 1437.81,701.16 1451.00,699.91 1464.20,698.66 1477.23,697.41 1490.00,696.19 1502.78,694.95 1515.28,693.74 1527.40,692.55 1539.51,691.35 1551.24,690.18 1562.47,689.06 1573.70,687.92 1584.44,686.83 1594.58,685.79" fill="none" stroke="#9a32cd" stroke-dasharray="8,8"/>
<polygon points="1156.23,730.60 1142.50,727.33 1155.27,721.32 1156.23,730.60" fill="#9a32cd" stroke="#9a32cd"/>
<text x="1273.08" y="704.30" textLength="61.00" lengthAdjust="spacingAndGlyphs">elements</text>
<path d="M718.69,735.51 C728.92,734.97 740.12,734.43 752.04,733.90 763.96,733.33 776.59,732.79 789.71,732.29 802.82,731.82 816.42,731.44 830.24,731.14 844.06,730.95 858.09,730.87 872.04,730.83 886.00,730.79 899.94,730.75 913.62,730.71 927.31,730.68 940.74,730.66 953.67,730.64 966.60,730.63 979.03,730.63 990.72,730.63 1002.41,730.64 1013.35,730.66 1023.32,730.69" fill="none" stroke="#9a32cd" stroke-dasharray="8,8"/>
<polygon points="718.54,740.18 705.18,735.55 718.50,730.85 718.54,740.18" fill="#9a32cd" stroke="#9a32cd"/>
<text x="830.50" y="727.50" textLength="50.00" lengthAdjust="spacingAndGlyphs">m_sock</text>
<path d="M370.49,830.62 C379.99,832.65 390.43,834.57 401.45,836.09 412.46,837.63 424.05,838.79 435.85,839.28 447.65,839.85 459.66,839.68 471.52,838.47 483.39,837.26 495.10,835.00 506.31,831.38 517.52,827.77 528.21,822.83 538.03,816.31 546.12,810.96 549.07,804.69 550.21,798.02 551.36,791.36 550.70,784.30 551.57,777.36 552.44,770.50 554.85,763.76 562.12,757.68 568.24,752.69 575.44,748.90 583.08,746.06 590.73,743.24 598.81,741.38 606.67,740.21" fill="none" stroke="#191970"/>
<polygon points="368.84,835.01 357.18,827.01 371.28,825.99 368.84,835.01" fill="#191970" stroke="#191970"/>
<path d="M371.88,816.33 C381.20,816.19 391.40,815.92 402.16,815.36 412.93,814.84 424.26,814.02 435.83,812.73 447.40,811.49 459.22,809.77 470.97,807.38 482.71,805.03 494.39,802.07 505.67,798.37 516.96,794.81 527.85,790.50 538.03,785.27 545.77,781.24 548.10,776.17 550.35,771.00 552.59,765.86 554.75,760.61 562.12,756.18 568.72,752.42 576.09,749.48 583.71,747.24 591.33,745.03 599.20,743.50 606.80,742.53" fill="none" stroke="#9a32cd" stroke-dasharray="8,8"/>
<polygon points="371.26,820.97 358.22,815.54 371.79,811.65 371.26,820.97" fill="#9a32cd" stroke="#9a32cd"/>
<text x="467.16" y="779.50" textLength="32.00" lengthAdjust="spacingAndGlyphs">m_io</text>
<path d="M1965.44,416.71 C1975.51,416.20 1986.30,415.56 1997.53,414.76 2008.76,413.96 2020.43,413.00 2032.26,411.84 2044.08,410.69 2056.07,409.34 2067.94,407.75 2079.81,406.17 2091.55,404.35 2102.90,402.26 2112.10,400.57 2121.62,398.43 2131.06,396.05 2140.51,393.67 2149.87,391.05 2158.78,388.41 2167.69,385.76 2176.14,383.08 2183.75,380.57" fill="none" stroke="#9a32cd" stroke-dasharray="8,8"/>
<polygon points="1965.28,421.39 1951.76,417.29 1964.88,412.05 1965.28,421.39" fill="#9a32cd" stroke="#9a32cd"/>
<text x="2013.97" y="383.57" textLength="84.00" lengthAdjust="spacingAndGlyphs">m_port_from</text>
<text x="2022.47" y="398.23" textLength="63.00" lengthAdjust="spacingAndGlyphs">m_socket</text>
<path d="M1930.96,747.89 C1937.12,742.25 1943.95,735.96 1951.27,729.12 1958.59,722.26 1966.41,714.85 1974.58,706.97 1982.74,699.10 1991.25,690.77 1999.94,682.07 2008.63,673.39 2017.50,664.34 2026.40,655.04 2035.30,645.74 2044.22,636.18 2053.01,626.46 2061.81,616.75 2070.46,606.87 2078.83,596.93 2087.20,587.01 2095.27,577.01 2102.90,567.05 2111.29,556.10 2119.52,544.50 2127.48,532.64 2135.44,520.79 2143.13,508.68 2150.45,496.66 2157.77,484.66 2164.71,472.76 2171.17,461.33 2177.63,449.89 2183.61,438.93 2189.00,428.81 2194.40,418.67 2199.20,409.36 2203.31,401.27 2207.43,393.12 2210.85,386.18 2213.47,380.83" fill="none" stroke="#9a32cd" stroke-dasharray="8,8"/>
<polygon points="1933.83,751.58 1920.76,756.98 1927.62,744.62 1933.83,751.58" fill="#9a32cd" stroke="#9a32cd"/>
<text x="2009.97" y="562.80" textLength="92.00" lengthAdjust="spacingAndGlyphs">m_pre_rawcpr</text>
<path d="M1192.72,831.41 C1202.59,830.96 1212.96,830.48 1223.78,829.97 1234.59,829.46 1245.85,828.92 1257.47,828.35 1269.08,827.78 1281.07,827.18 1293.35,826.55 1305.63,825.92 1318.21,825.26 1331.02,824.57 1343.82,823.89 1356.85,823.17 1370.03,822.43 1383.22,821.69 1396.56,820.92 1409.98,820.12 1423.41,819.32 1436.91,818.50 1450.44,817.65 1463.96,816.80 1477.50,815.92 1491.00,815.02 1504.52,814.12 1517.98,813.19 1531.32,812.24 1544.65,811.29 1557.86,810.31 1570.87,809.31 1584.44,808.27 1598.32,807.14 1612.34,805.95 1626.36,804.75 1640.51,803.50 1654.62,802.21 1668.72,800.92 1682.78,799.59 1696.63,798.25 1710.48,796.92 1724.11,795.57 1737.33,794.24 1750.56,792.90 1763.37,791.59 1775.61,790.31 1787.84,789.03 1799.49,787.80 1810.37,786.63" fill="none" stroke="#191970"/>
<polygon points="1192.69,836.09 1179.15,832.03 1192.26,826.76 1192.69,836.09" fill="#191970" stroke="#191970"/>
<path d="M1183.65,821.28 C1194.45,819.68 1205.77,818.01 1217.42,816.28 1229.07,814.56 1241.07,812.79 1253.21,810.99 1265.35,809.20 1277.64,807.38 1289.89,805.57 1302.14,803.75 1314.36,801.95 1326.35,800.17 1338.34,798.40 1350.11,796.66 1361.46,794.98 1372.82,793.30 1383.76,791.68 1394.11,790.15" fill="none" stroke="#191970"/>
<polygon points="1184.02,825.93 1170.14,823.27 1182.65,816.71 1184.02,825.93" fill="#191970" stroke="#191970"/>
<path d="M743.59,876.59 C753.70,875.42 764.41,874.18 775.54,872.88 786.68,871.59 798.25,870.24 810.09,868.86 821.92,867.48 834.03,866.08 846.24,864.65 858.42,863.23 870.66,861.80 882.85,860.37 895.03,858.95 907.15,857.53 919.06,856.14 930.96,854.74 942.65,853.37 953.95,852.05 965.25,850.73 976.17,849.45 986.54,848.24" fill="none" stroke="#191970"/>
<polygon points="744.18,881.22 730.35,878.30 742.98,871.97 744.18,881.22" fill="#191970" stroke="#191970"/>
<path d="M414.01,887.70 C424.62,887.70 435.72,887.70 447.08,887.70 458.43,887.70 470.05,887.70 481.71,887.70 493.37,887.70 505.06,887.70 516.56,887.70 528.06,887.70 539.36,887.70 550.26,887.70 561.15,887.70 571.62,887.70 581.45,887.70" fill="none" stroke="#191970"/>
<polygon points="413.83,892.37 400.49,887.70 413.83,883.03 413.83,892.37" fill="#191970" stroke="#191970"/>
<path d="M737.12,794.59 C748.15,795.08 759.97,795.74 772.35,796.56 784.74,797.42 797.68,798.44 810.96,799.59 824.24,800.81 837.85,802.15 851.57,803.59 865.21,805.11 878.94,806.81 892.55,808.64 906.15,810.59 919.63,812.66 932.75,814.82 941.46,816.32 950.45,817.90 959.50,819.55 968.55,821.26 977.66,823.02 986.61,824.81" fill="none" stroke="#9a32cd" stroke-dasharray="8,8"/>
<polygon points="736.38,799.21 723.61,793.18 737.35,789.93 736.38,799.21" fill="#9a32cd" stroke="#9a32cd"/>
<text x="819.50" y="792.50" textLength="72.00" lengthAdjust="spacingAndGlyphs">tmp_trailer</text>
<path d="M740.69,836.41 C750.82,836.20 761.58,836.00 772.79,835.82 784.01,835.65 795.69,835.49 807.65,835.35 819.62,835.22 831.87,835.09 844.24,834.97 856.59,834.86 869.00,834.80 881.36,834.81 893.71,834.88 906.02,835.01 918.10,835.19 930.18,835.40 942.04,835.66 953.51,835.95 964.98,836.24 976.05,836.56 986.57,836.89" fill="none" stroke="#9a32cd" stroke-dasharray="8,8"/>
<polygon points="740.37,841.08 726.99,836.55 740.28,831.75 740.37,841.08" fill="#9a32cd" stroke="#9a32cd"/>
<text x="816.50" y="831.40" textLength="78.00" lengthAdjust="spacingAndGlyphs">tmp_header</text>
<path d="M1584.44,777.30 C1596.01,777.30 1608.18,777.30 1620.74,777.30 1633.29,777.30 1646.23,777.30 1659.34,777.30 1672.45,777.30 1685.72,777.30 1698.95,777.30 1712.18,777.30 1725.36,777.30 1738.26,777.30 1751.16,777.30 1763.79,777.30 1775.92,777.30 1788.05,777.30 1799.69,777.30 1810.61,777.30" fill="none" stroke="#9a32cd" stroke-dasharray="8,8"/>
<polygon points="1584.24,781.97 1570.91,777.30 1584.24,772.63 1584.24,781.97" fill="#9a32cd" stroke="#9a32cd"/>
<text x="1631.20" y="773.30" textLength="123.00" lengthAdjust="spacingAndGlyphs">m_reduced_rawcpr</text>
<path d="M909.88,165.43 C918.23,167.78 927.39,170.30 937.24,172.95 947.10,175.60 957.66,178.38 968.82,181.21 979.98,184.05 991.74,186.95 1004.00,189.85 1016.26,192.76 1029.02,195.68 1042.18,198.56 1055.33,201.47 1068.88,204.35 1082.73,207.15 1096.61,210.20 1110.78,213.43 1125.15,216.63 1139.52,219.85 1154.07,222.74 1168.72,225.22 1183.37,227.71 1198.11,229.98 1212.84,231.95 1227.57,233.92 1242.28,235.60 1256.88,236.92 1271.49,238.23 1285.97,239.17 1300.24,239.69 1300.24,239.69 1300.24,239.69 1300.42,239.70 1300.59,239.71 1300.95,239.72 1301.65,239.74 1302.36,239.78 1303.42,239.82 1305.01,239.86 1306.59,239.93 1308.71,240.01 1311.53,240.08 1314.36,240.21 1317.89,240.33 1322.30,240.45 1326.71,240.62 1332.00,240.79 1338.35,240.96 1344.71,241.19 1352.12,241.40 1360.76,241.62 1369.41,241.88 1379.29,242.13 1390.58,242.36 1401.87,242.63 1414.58,242.87 1428.87,243.07 1443.16,243.28 1459.04,243.42 1476.69,243.49 1494.36,243.51 1513.83,243.53 1535.24,243.55 1556.65,243.56 1580.00,243.58 1605.48,243.60 1630.96,243.62 1658.56,243.64 1688.46,243.65 1718.40,243.67 1750.64,243.69 1785.36,243.71 1820.08,243.72 1857.28,243.74 1897.14,243.75 1910.81,243.75 1924.60,244.74 1938.37,246.53 1952.15,248.33 1965.92,250.92 1979.55,254.16 1993.18,257.39 2006.67,261.25 2019.89,265.57 2033.11,269.89 2046.07,274.67 2058.62,279.73 2071.18,284.79 2083.33,290.13 2094.96,295.59 2106.59,301.04 2117.69,306.60 2128.13,312.09 2138.57,317.58 2148.36,323.00 2157.36,328.19 2166.36,333.37 2174.57,338.32 2181.86,342.84 2189.16,347.37 2195.54,351.48 2200.87,355.00" fill="none" stroke="#9a32cd" stroke-dasharray="8,8"/>
<polygon points="908.25,169.80 896.70,161.68 910.79,160.83 908.25,169.80" fill="#9a32cd" stroke="#9a32cd"/>
<text x="1423.00" y="239.50" textLength="123.00" lengthAdjust="spacingAndGlyphs">m_hostname_from</text>
</g>
</svg>
</body></html>
